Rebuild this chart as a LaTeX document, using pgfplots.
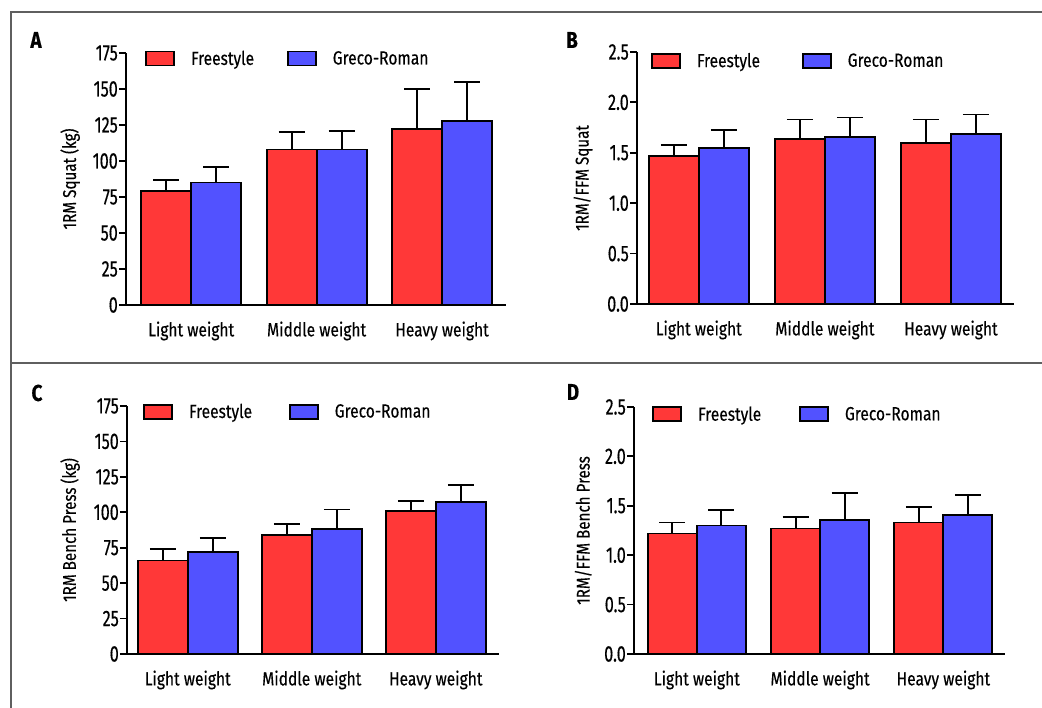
\documentclass[border=0pt]{standalone}
\usepackage{pgfplots}
\pgfplotsset{compat=1.18}
\usepackage{fontspec}
\setmainfont{Fira Sans}[FakeStretch=0.82, FakeBold=0.3]
\newfontfamily\tickfont{Fira Sans}[FakeStretch=0.72, FakeBold=0.3]
\definecolor{fsred}{RGB}{255,56,56}
\definecolor{grblue}{RGB}{82,82,255}
\definecolor{framegray}{RGB}{95,95,95}
\pgfplotsset{
  panel/.style={
    scale only axis,
    axis lines=left,
    axis line style={-, line width=1.8pt, black},
    ybar, ymin=0,
    bar width=50pt,
    xtick={0,1,2},
    xticklabels={Light weight, Middle weight, Heavy weight},
    xtick style={draw=none},
    ytick style={line width=1.8pt, black},
    tick align=outside,
    major tick length=7pt,
    minor tick num=0,
    /pgf/number format/assume math mode=true,
    xticklabel style={font=\fontsize{19}{22}\selectfont, yshift=-6pt},
    yticklabel style={font=\tickfont\fontsize{22.5}{26}\selectfont, inner sep=1pt},
    label style={font=\fontsize{18.5}{22}\selectfont},
    error bars/y dir=plus,
    error bars/y explicit,
    error bars/error bar style={line width=1.8pt, black},
    error bars/error mark options={rotate=90, mark size=13pt, line width=1.8pt, black},
    legend columns=2,
    legend image code/.code={\draw[#1, line width=1.8pt, draw=black] (0pt,-7pt) rectangle (28pt,7pt);},
    legend style={draw=none, fill=none, inner sep=0pt, anchor=north west,
      font=\fontsize{19}{22}\selectfont,
      nodes={inner sep=0pt},
      cells={anchor=west},
      /tikz/every odd column/.append style={column sep=16pt}},
    clip=false,
  },
  redbar/.style={fill=fsred, draw=black, line width=1.8pt, bar shift=-25pt},
  bluebar/.style={fill=grblue, draw=black, line width=1.8pt, bar shift=25pt},
}
\begin{document}
\begin{tikzpicture}
\draw[line width=2pt, framegray] (11pt,0pt) -- (11pt,696pt) -- (1042pt,696pt);
\draw[line width=2pt, framegray] (11pt,345pt) -- (1042pt,345pt);
\node[font=\bfseries\fontsize{23}{26}\selectfont] at (36pt,668pt) {A};
\node[font=\bfseries\fontsize{23}{26}\selectfont] at (572pt,668pt) {B};
\node[font=\bfseries\fontsize{23}{26}\selectfont] at (37pt,315pt) {C};
\node[font=\bfseries\fontsize{23}{26}\selectfont] at (573pt,316pt) {D};

% Panel A
\begin{axis}[panel, at={(126pt,403pt)}, anchor=south west, width=380pt, height=252pt,
  xmin=-0.52, xmax=2.51, ymax=175, ytick={0,25,...,175},
  ylabel={1RM Squat (kg)},
  ylabel style={at={(axis description cs:-0.147,0.5)}, anchor=center},
  legend style={at={(0.05,1.01)}, /tikz/every even column/.append style={column sep=16pt}}]
\addplot[redbar] coordinates {(0,79) +- (0,8) (1,108) +- (0,12) (2,122) +- (0,28)};
\addplot[bluebar] coordinates {(0,85) +- (0,11) (1,108) +- (0,13) (2,128) +- (0,27)};
\legend{\makebox[80pt][l]{Freestyle}, Greco-Roman}
\end{axis}

% Panel B
\begin{axis}[panel, at={(637pt,404pt)}, anchor=south west, width=377pt, height=252pt,
  xmin=-0.49, xmax=2.5, ymax=2.5, ytick={0,0.5,...,2.5},
  yticklabel style={/pgf/number format/.cd, fixed, fixed zerofill, precision=1},
  ylabel={1RM/FFM Squat},
  ylabel style={at={(axis description cs:-0.143,0.5)}, anchor=center},
  legend style={at={(0.037,0.997)}, /tikz/every even column/.append style={column sep=25pt}}]
\addplot[redbar] coordinates {(0,1.47) +- (0,0.11) (1,1.64) +- (0,0.19) (2,1.60) +- (0,0.23)};
\addplot[bluebar] coordinates {(0,1.55) +- (0,0.18) (1,1.66) +- (0,0.19) (2,1.69) +- (0,0.19)};
\legend{\makebox[80pt][l]{Freestyle}, Greco-Roman}
\end{axis}

% Panel C
\begin{axis}[panel, at={(127pt,54pt)}, anchor=south west, width=372pt, height=248pt,
  xmin=-0.49, xmax=2.51, ymax=175, ytick={0,25,...,175},
  ylabel={1RM Bench Press (kg)},
  ylabel style={at={(axis description cs:-0.153,0.5)}, anchor=center},
  legend style={at={(0.043,1.01)}, /tikz/every even column/.append style={column sep=20pt}}]
\addplot[redbar] coordinates {(0,66) +- (0,8) (1,84) +- (0,8) (2,101) +- (0,7)};
\addplot[bluebar] coordinates {(0,72) +- (0,10) (1,88) +- (0,14) (2,107) +- (0,12)};
\legend{\makebox[80pt][l]{Freestyle}, Greco-Roman}
\end{axis}

% Panel D
\begin{axis}[panel, at={(634pt,54pt)}, anchor=south west, width=371pt, height=247pt,
  xmin=-0.51, xmax=2.5, ymax=2.5, ytick={0,0.5,...,2.5}, bar width=49pt,
  yticklabel style={/pgf/number format/.cd, fixed, fixed zerofill, precision=1},
  ylabel={1RM/FFM Bench Press},
  ylabel style={at={(axis description cs:-0.137,0.5)}, anchor=center},
  legend style={at={(0.049,1.003)}, /tikz/every even column/.append style={column sep=21pt}}]
\addplot[redbar, bar shift=-24.5pt] coordinates {(0,1.22) +- (0,0.11) (1,1.27) +- (0,0.12) (2,1.33) +- (0,0.16)};
\addplot[bluebar, bar shift=24.5pt] coordinates {(0,1.30) +- (0,0.16) (1,1.36) +- (0,0.27) (2,1.41) +- (0,0.20)};
\legend{\makebox[80pt][l]{Freestyle}, Greco-Roman}
\end{axis}
\pgfresetboundingbox
\useasboundingbox (0pt,0pt) rectangle (1042pt,708pt);
\end{tikzpicture}
\end{document}
